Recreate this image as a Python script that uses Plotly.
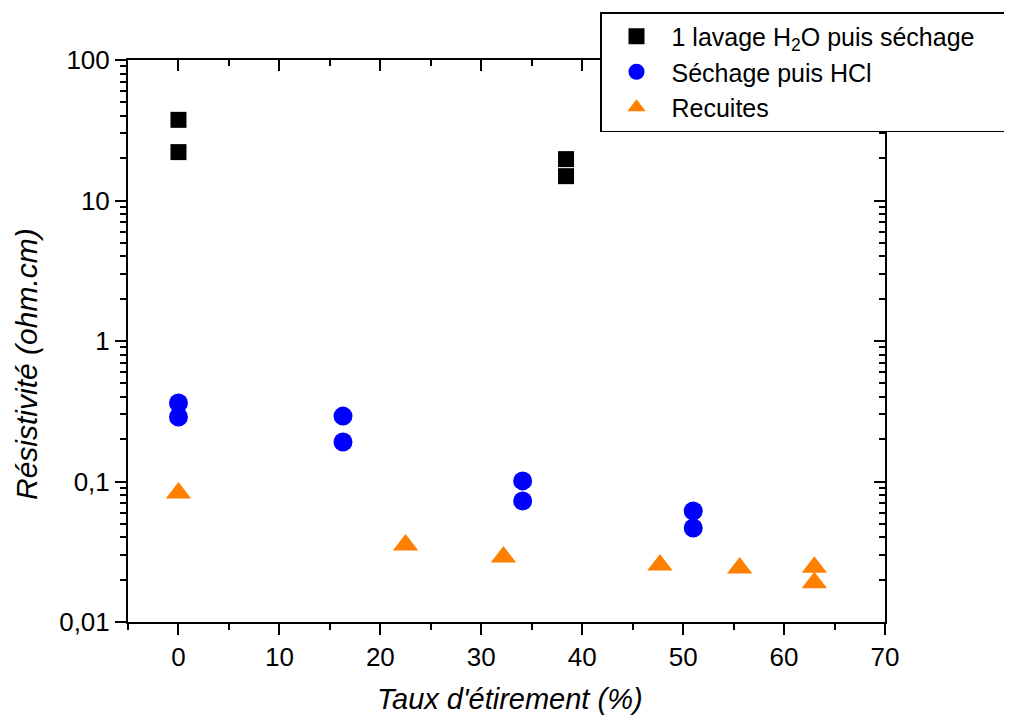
import plotly.graph_objects as go

# Data
lav_x = [0, 0, 38.4, 38.4]
lav_y = [37.5, 22.1, 19.7, 14.9]

hcl_x = [0, 0, 16.3, 16.3, 34.1, 34.1, 51.0, 51.0]
hcl_y = [0.362, 0.288, 0.292, 0.191, 0.101, 0.0727, 0.0617, 0.0467]

rec_x = [0, 22.5, 32.2, 47.7, 55.6, 63.0, 63.0]
rec_y = [0.0828, 0.0353, 0.029, 0.0255, 0.0242, 0.0245, 0.019]

names = ["1 lavage H<sub>2</sub>O puis séchage&nbsp;&nbsp;&nbsp;&nbsp;", "Séchage puis HCl", "Recuites"]

x_tickvals = [0, 10, 20, 30, 40, 50, 60, 70]
x_minor = [-5, 5, 15, 25, 35, 45, 55, 65]
y_tickvals = [0.01, 0.1, 1, 10, 100]
y_ticktext = ["0,01", "0,1", "1", "10", "100"]
y_minor = [m * 10 ** e for e in range(-2, 2) for m in range(2, 10)]

x_title = "Taux d'étirement (%)"
y_title = "Résistivité (ohm.cm)"

FONT = "Arial, Liberation Sans, sans-serif"

fig = go.Figure()
fig.add_trace(go.Scatter(x=lav_x, y=lav_y, mode="markers", name=names[0],
                         marker=dict(symbol="square", size=16, color="black")))
fig.add_trace(go.Scatter(x=hcl_x, y=hcl_y, mode="markers", name=names[1],
                         marker=dict(symbol="circle", size=19, color="#0000ff")))
fig.add_trace(go.Scatter(x=rec_x, y=rec_y, mode="markers", name=names[2],
                         marker=dict(symbol="triangle-up", size=22, color="#ff7f00")))

axis_common = dict(showline=True, linecolor="black", linewidth=2, showgrid=False,
                   zeroline=False, tickcolor="black", tickwidth=2,
                   tickfont=dict(family=FONT, size=26, color="black"))

fig.update_layout(
    width=1004, height=709,
    margin=dict(l=120, r=127, t=52, b=95, autoexpand=False),
    paper_bgcolor="white", plot_bgcolor="white",
    font=dict(family=FONT, color="black"),
    xaxis=dict(range=[-5, 70], tickvals=x_tickvals,
               ticks="outside", ticklen=11,
               minor=dict(tickvals=x_minor, ticks="outside",
                          ticklen=6, tickwidth=2, tickcolor="black", showgrid=False),
               **axis_common),
    yaxis=dict(type="log", range=[-2, 2], tickvals=y_tickvals, ticktext=y_ticktext,
               ticks="outside", ticklen=11,
               minor=dict(tickvals=y_minor, ticks="outside", ticklen=6, tickwidth=2,
                          tickcolor="black", showgrid=False),
               **axis_common),
    xaxis2=dict(range=[-5, 70], overlaying="x", side="top", tickvals=x_tickvals,
                ticks="inside", ticklen=11, showticklabels=False,
                minor=dict(tickvals=x_minor, ticks="inside",
                           ticklen=6, tickwidth=2, tickcolor="black", showgrid=False),
                **axis_common),
    yaxis2=dict(type="log", range=[-2, 2], overlaying="y", side="right", tickvals=y_tickvals,
                ticks="inside", ticklen=11, showticklabels=False,
                minor=dict(tickvals=y_minor, ticks="inside", ticklen=6, tickwidth=2,
                           tickcolor="black", showgrid=False),
                **axis_common),
    legend=dict(x=(600 - 128) / 757, y=(622 - 12) / 562, xanchor="left", yanchor="top",
                bgcolor="white", bordercolor="black", borderwidth=1.5,
                font=dict(family=FONT, size=25, color="black"),
                tracegroupgap=0, itemsizing="trace", itemwidth=60),
    showlegend=True,
    annotations=[
        dict(text="<i>%s</i>" % x_title, xref="paper", yref="paper",
             x=0.5 + 3 / 757, y=(622 - 699) / 562, xanchor="center", yanchor="middle",
             showarrow=False, font=dict(family=FONT, size=29, color="black")),
        dict(text="<i>%s</i>" % y_title, xref="paper", yref="paper", textangle=-90,
             x=(26 - 128) / 757, y=(622 - 364) / 562, xanchor="center", yanchor="middle",
             showarrow=False, font=dict(family=FONT, size=30, color="black")),
    ],
)

# invisible trace to activate the mirrored axes
fig.add_trace(go.Scatter(x=[None], y=[None], xaxis="x2", yaxis="y2", showlegend=False,
                         hoverinfo="skip"))

fig.write_html("out.html")
